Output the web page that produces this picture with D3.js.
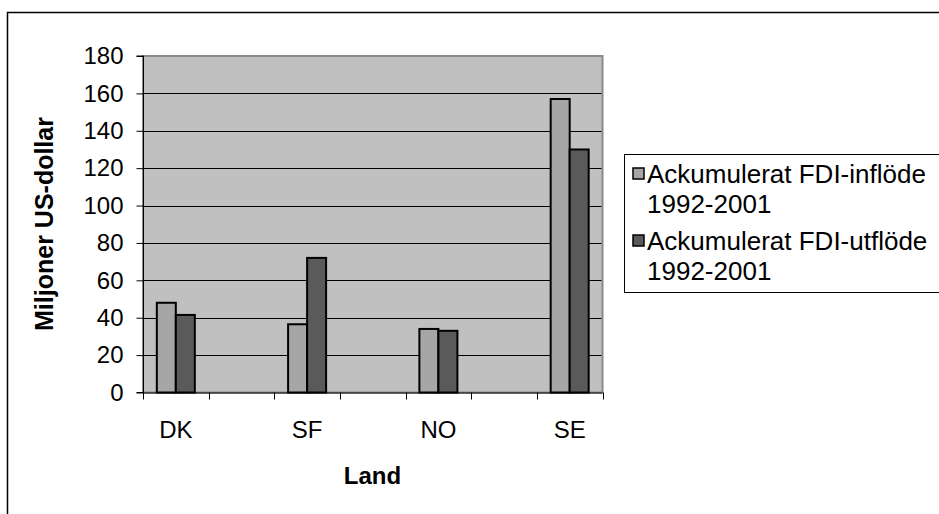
<!DOCTYPE html>
<html><head><meta charset="utf-8">
<script src="https://cdn.jsdelivr.net/npm/d3@7"></script>
<style>body{margin:0;background:#fff}svg{display:block;font-family:"Liberation Sans",Arial,sans-serif}</style>
</head><body><svg id="c" width="939" height="514"></svg>
<script>
const slots = ["DK", "", "SF", "", "NO", "", "SE"];
const seriesNames = ["Ackumulerat FDI-inflöde 1992-2001", "Ackumulerat FDI-utflöde 1992-2001"];
const inflow  = [48, null, 36.5, null, 34, null, 157];
const outflow = [41.5, null, 72, null, 33, null, 130];
const yTicks = [0, 20, 40, 60, 80, 100, 120, 140, 160, 180];
const colors = ["#a6a6a6", "#5a5a5a"];

const svg = d3.select("#c");
const L = 143, R = 602.5, T = 56, B = 392.5;

// outer border
svg.append("rect").attr("x", 7.5).attr("y", 12.5).attr("width", 960).attr("height", 560)
  .attr("fill", "#fff").attr("stroke", "#000").attr("stroke-width", 1.5);

const x = d3.scaleBand().domain(d3.range(slots.length)).range([L, R]).padding(0);
const y = d3.scaleLinear().domain([0, 180]).range([B, T]);

// plot area
svg.append("rect").attr("x", L).attr("y", T).attr("width", R - L).attr("height", B - T)
  .attr("fill", "#c0c0c0").attr("stroke", "#8a8a8a").attr("stroke-width", 2);

// gridlines
svg.append("g").selectAll("line").data(yTicks.filter(d => d > 0 && d < 180)).join("line")
  .attr("x1", L).attr("x2", R - 1).attr("y1", d => Math.round(y(d)) + 0.5).attr("y2", d => Math.round(y(d)) + 0.5)
  .attr("stroke", "#000").attr("stroke-width", 1);

// bars
const bw = 19;
const series = [inflow, outflow];
series.forEach((vals, si) => {
  svg.append("g").selectAll("rect").data(vals.map((v, i) => ({v, i})).filter(d => d.v != null)).join("rect")
    .attr("x", d => x(d.i) + x.bandwidth() / 2 - bw + si * bw)
    .attr("y", d => y(d.v))
    .attr("width", bw).attr("height", d => B - y(d.v))
    .attr("fill", colors[si]).attr("stroke", "#000").attr("stroke-width", 2);
});

// y axis
const yAxis = d3.axisLeft(y).tickValues(yTicks).tickSize(7).tickPadding(13);
const gy = svg.append("g").attr("transform", `translate(${L + 0.5},0)`).call(yAxis);
gy.select(".domain").attr("stroke", "#000").attr("d", `M-7,${T}H0V${B}H-7`);
gy.selectAll("text").attr("font-size", 24).attr("fill", "#000").attr("font-family", "Liberation Sans, Arial, sans-serif");
gy.selectAll(".tick line").attr("stroke", "#000");

// x axis line + ticks at band boundaries
const bounds = d3.range(slots.length + 1).map(i => L + i * x.bandwidth());
svg.append("line").attr("x1", L).attr("x2", R).attr("y1", B + 0.5).attr("y2", B + 0.5).attr("stroke", "#000");
svg.append("g").selectAll("line").data(bounds).join("line")
  .attr("x1", d => Math.round(d) + 0.5).attr("x2", d => Math.round(d) + 0.5)
  .attr("y1", B).attr("y2", B + 7).attr("stroke", "#000");
svg.append("g").selectAll("text").data(slots.map((s, i) => ({s, i})).filter(d => d.s)).join("text")
  .attr("x", d => x(d.i) + x.bandwidth() / 2).attr("y", 438)
  .attr("text-anchor", "middle").attr("font-size", 24).text(d => d.s);

// axis titles
svg.append("text").attr("x", 372.5).attr("y", 483.5).attr("text-anchor", "middle")
  .attr("font-size", 24).attr("font-weight", "bold").text("Land");
svg.append("text").attr("transform", `translate(53,224) rotate(-90)`).attr("text-anchor", "middle")
  .attr("font-size", 25).attr("font-weight", "bold").text("Miljoner US-dollar");

// legend
const lg = svg.append("g");
lg.append("rect").attr("x", 624.5).attr("y", 154.5).attr("width", 330).attr("height", 138)
  .attr("fill", "#fff").attr("stroke", "#000").attr("stroke-width", 1);
const lines = [["Ackumulerat FDI-inflöde", "1992-2001"], ["Ackumulerat FDI-utflöde", "1992-2001"]];
const baseY = [183, 250];
lines.forEach((ln, i) => {
  lg.append("rect").attr("x", 633).attr("y", baseY[i] - 15).attr("width", 11).attr("height", 11)
    .attr("fill", colors[i]).attr("stroke", "#000").attr("stroke-width", 1.5);
  lg.append("text").attr("x", 647).attr("y", baseY[i]).attr("font-size", 26).text(ln[0]);
  lg.append("text").attr("x", 647).attr("y", baseY[i] + 30).attr("font-size", 26).text(ln[1]);
});
</script></body></html>
